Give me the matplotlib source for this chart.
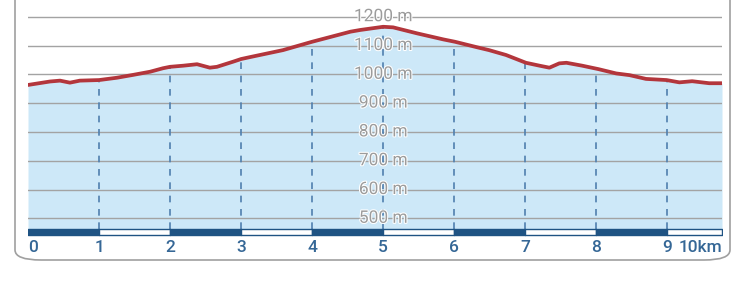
import numpy as np
import matplotlib
matplotlib.use("Agg")
import matplotlib.pyplot as plt
import matplotlib.patheffects as pe
from matplotlib.patches import FancyBboxPatch

# elevation profile (km, m)
dist_km = [0.0, 0.31, 0.45, 0.59, 0.73, 1.0, 1.25, 1.48, 1.72, 1.9, 2.0, 2.19, 2.38,
           2.56, 2.66, 2.89, 3.0, 3.13, 3.59, 4.0, 4.54, 4.68, 5.0, 5.14, 5.48, 5.85,
           6.01, 6.32, 6.49, 6.73, 7.01, 7.2, 7.34, 7.48, 7.58, 7.8, 8.03, 8.28, 8.47,
           8.7, 8.99, 9.17, 9.35, 9.59, 9.77]
elev_m = [963, 975, 978, 971, 978, 980, 988, 998, 1009, 1021, 1026, 1030, 1035,
          1023, 1026, 1044, 1053, 1060, 1084, 1113, 1148, 1154, 1165, 1163, 1142, 1121,
          1113, 1094, 1084, 1067, 1040, 1030, 1023, 1038, 1040, 1030, 1018, 1003, 997,
          984, 980, 972, 976, 969, 969]
km_ticks = [0, 1, 2, 3, 4, 5, 6, 7, 8, 9]
km_labels = ["0", "1", "2", "3", "4", "5", "6", "7", "8", "9"]
end_label = "10km"
elev_ticks = [500, 600, 700, 800, 900, 1000, 1100, 1200]
y_labels = ["%d m" % v for v in elev_ticks]

W, H = 739, 287
fig = plt.figure(figsize=(W / 100, H / 100), dpi=100)

# rounded frame around the whole widget
fig.patches.append(FancyBboxPatch((15 / W, 27 / H), 715 / W, 275 / H,
                                  boxstyle="round,pad=0,rounding_size=0.035",
                                  transform=fig.transFigure, fc="none",
                                  ec="#a0a0a0", lw=1.2))

px_per_m = 28.8 / 100
y_top_px, y_bot_px = 5, 236
ymax = 1200 + (16.7 - y_top_px) / px_per_m
ymin = 1200 - (y_bot_px - 16.7) / px_per_m
base = 1200 - (229 - 16.7) / px_per_m

ax = fig.add_axes([28 / W, 1 - y_bot_px / H, (722 - 28) / W, (y_bot_px - y_top_px) / H])
ax.set_xlim(0, dist_km[-1])
ax.set_ylim(ymin, ymax)
for s in ax.spines.values():
    s.set_visible(False)

ax.fill_between(dist_km, elev_m, base, color="#cde8f8", lw=0, zorder=1)
for v in elev_ticks:
    ax.axhline(v, color="#a3a3a3", lw=1, zorder=2)

# dashed km markers under the profile
for k in km_ticks[1:]:
    ax.plot([k, k], [base, np.interp(k, dist_km, elev_m)], color="#4f7fae",
            lw=1.2, ls=(0, (4, 4)), zorder=3)

ax.plot(dist_km, elev_m, color="#b3363c", lw=2.7, zorder=5, solid_capstyle="round")

# scale bar
bar_h = 6 / px_per_m
edges = km_ticks + [dist_km[-1]]
for i in range(len(edges) - 1):
    fc = "#1f5383" if i % 2 == 0 else "white"
    ax.broken_barh([(edges[i], edges[i + 1] - edges[i])], (base - bar_h, bar_h),
                   facecolors=fc, edgecolors="#1f5383", lw=1, zorder=4)

for v, lab in zip(elev_ticks, y_labels):
    ax.text(5, v, lab, ha="center", va="center", color="#9c9c9c", fontsize=12.5,
            family="Roboto", zorder=6,
            path_effects=[pe.withStroke(linewidth=1.5, foreground="white")])

ax.set_xticks(km_ticks + [dist_km[-1]])
ax.set_xticklabels(km_labels + [end_label], color="#356796", fontsize=12.5,
                   family="Roboto", fontweight="medium")
ax.get_xticklabels()[0].set_ha("left")
ax.get_xticklabels()[-1].set_ha("right")
ax.tick_params(axis="x", length=0, pad=3)
ax.set_yticks([])

fig.savefig("out.png", dpi=100)
